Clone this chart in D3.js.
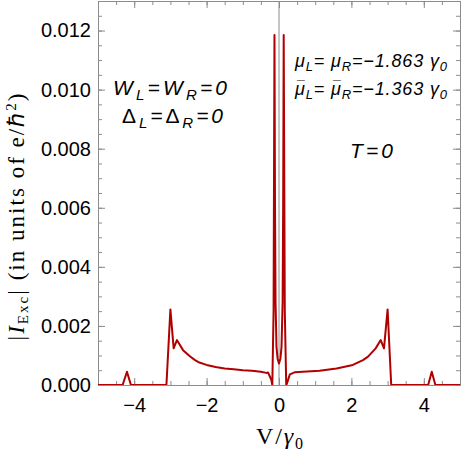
<!DOCTYPE html>
<html>
<head>
<meta charset="utf-8">
<script src="https://cdn.jsdelivr.net/npm/d3@7"></script>
<style>
  body { margin: 0; background: #fff; }
  .tick text { font-family: "Liberation Sans", Arial, sans-serif; font-size: 20px; fill: #000; }
  .frame path, .frame line { stroke: #8c8c8c; }
  .note { font-family: "Liberation Sans", Arial, sans-serif; font-style: italic; fill: #000; }
  .axisTitle { font-family: "Liberation Serif", "Times New Roman", serif; fill: #000; }
</style>
</head>
<body>
<div id="chart"></div>
<script>
// values
var voltage = [-5, -4.32, -4.2, -4.09, -3.11, -3.0, -2.91, -2.82, -2.65, -2.47, -2.33, -2.2, -2.0,
  -1.75, -1.5, -1.25, -1.0, -0.75, -0.5, -0.35, -0.3, -0.21, -0.185, -0.15, -0.125, -0.11, -0.095,
  -0.07, -0.04, 0,
  0.04, 0.07, 0.1, 0.115, 0.13, 0.16, 0.2, 0.22, 0.3, 0.43, 0.66, 1.12, 1.59, 2.04, 2.32, 2.46,
  2.67, 2.81, 2.9, 3.0, 3.1, 4.12, 4.22, 4.32, 5];
var current = [0, 0, 0.00045, 0, 0, 0.00256, 0.00124, 0.00152, 0.00118, 0.00098, 0.00085, 0.00076, 0.00068,
  0.00061, 0.00056, 0.00053, 0.0005, 0.00048, 0.00045, 0.00041, 0.00042, 0.00017, 0, 0.0025, 0.01185, 0.006, 0.0028,
  0.0013, 0.0009, 0.00073,
  0.0009, 0.0013, 0.0028, 0.006, 0.01185, 0.0025, 0, 0.00005, 0.00036, 0.00043, 0.00045, 0.00048, 0.00056, 0.00068, 0.00084, 0.00096,
  0.00124, 0.00152, 0.00124, 0.00256, 0, 0, 0.00045, 0, 0];

var xTicks = [-4, -2, 0, 2, 4];
var yTicks = [0, 0.002, 0.004, 0.006, 0.008, 0.010, 0.012];
var xMinor = d3.range(-5, 5.01, 0.5);
var yMinor = d3.range(0, 0.0131, 0.0005);

var svgWidth = 461;
var svgHeight = 461;

var margin = { top: 1, right: 1, bottom: 76, left: 98 };

var chartWidth = svgWidth - margin.left - margin.right;
var chartHeight = svgHeight - margin.top - margin.bottom;

var svg = d3.select("#chart")
  .append("svg")
  .attr("width", svgWidth)
  .attr("height", svgHeight);

var chartGroup = svg.append("g")
  .attr("transform", `translate(${margin.left}, ${margin.top})`);

var xScale = d3.scaleLinear().domain([-5, 5]).range([0, chartWidth]);
var yScale = d3.scaleLinear().domain([0, 0.013]).range([chartHeight, 0]);

// minor ticks (all four sides)
chartGroup.append("g").attr("class", "frame")
  .attr("transform", `translate(0, ${chartHeight})`)
  .call(d3.axisBottom(xScale).tickValues(xMinor).tickSize(-4).tickSizeOuter(0).tickFormat(""));
chartGroup.append("g").attr("class", "frame")
  .call(d3.axisTop(xScale).tickValues(xMinor).tickSize(-4).tickSizeOuter(0).tickFormat(""));
chartGroup.append("g").attr("class", "frame")
  .call(d3.axisLeft(yScale).tickValues(yMinor).tickSize(-4).tickSizeOuter(0).tickFormat(""));
chartGroup.append("g").attr("class", "frame")
  .attr("transform", `translate(${chartWidth}, 0)`)
  .call(d3.axisRight(yScale).tickValues(yMinor).tickSize(-4).tickSizeOuter(0).tickFormat(""));

// major ticks
chartGroup.append("g").attr("class", "frame")
  .attr("transform", `translate(0, ${chartHeight})`)
  .call(d3.axisBottom(xScale).tickValues(xTicks).tickSize(-7).tickSizeOuter(0).tickPadding(13));
chartGroup.append("g").attr("class", "frame")
  .call(d3.axisTop(xScale).tickValues(xTicks).tickSize(-7).tickSizeOuter(0).tickFormat(""));
chartGroup.append("g").attr("class", "frame")
  .call(d3.axisLeft(yScale).tickValues(yTicks).tickSize(-7).tickSizeOuter(0).tickPadding(7).tickFormat(d3.format(".3f")));
chartGroup.append("g").attr("class", "frame")
  .attr("transform", `translate(${chartWidth}, 0)`)
  .call(d3.axisRight(yScale).tickValues(yTicks).tickSize(-7).tickSizeOuter(0).tickFormat(""));

// vertical line at V = 0
chartGroup.append("line")
  .attr("x1", xScale(0)).attr("x2", xScale(0))
  .attr("y1", 0).attr("y2", chartHeight)
  .attr("stroke", "#8c8c8c")
  .attr("stroke-width", 1);

chartGroup.append("clipPath").attr("id", "clip")
  .append("rect").attr("width", chartWidth).attr("height", chartHeight);

var points = voltage.map((v, i) => [v, current[i]]);

var line = d3.line()
  .x(d => xScale(d[0]))
  .y(d => yScale(d[1]));

chartGroup.append("path")
  .datum(points)
  .attr("clip-path", "url(#clip)")
  .attr("d", line)
  .attr("fill", "none")
  .attr("stroke", "#b00000")
  .attr("stroke-width", 2)
  .attr("stroke-linejoin", "round");

// annotations
var n1 = svg.append("text").attr("class", "note")
  .attr("x", 113).attr("y", 95).style("font-size", "21px")
  .attr("textLength", 114).attr("lengthAdjust", "spacing");
n1.append("tspan").text("W");
n1.append("tspan").attr("dy", 5).style("font-size", "15px").text("L");
n1.append("tspan").attr("dy", -5).text("=W");
n1.append("tspan").attr("dy", 5).style("font-size", "15px").text("R");
n1.append("tspan").attr("dy", -5).text("=0");

var n2 = svg.append("text").attr("class", "note")
  .attr("x", 122).attr("y", 123).style("font-size", "21px")
  .attr("textLength", 101).attr("lengthAdjust", "spacing");
n2.append("tspan").style("font-style", "normal").text("Δ");
n2.append("tspan").attr("dy", 5).style("font-size", "15px").text("L");
n2.append("tspan").attr("dy", -5).text("=");
n2.append("tspan").style("font-style", "normal").text("Δ");
n2.append("tspan").attr("dy", 5).style("font-size", "15px").text("R");
n2.append("tspan").attr("dy", -5).text("=0");

svg.append("text").attr("class", "note")
  .attr("x", 350).attr("y", 158).style("font-size", "21px")
  .attr("textLength", 43).attr("lengthAdjust", "spacing")
  .text("T=0");

function muLine(y, value, bar) {
  var t = svg.append("text").attr("class", "note")
    .attr("x", 295).attr("y", y).style("font-size", "18px")
    .attr("textLength", 152).attr("lengthAdjust", "spacing");
  t.append("tspan").text("μ");
  t.append("tspan").attr("dy", 4).style("font-size", "13px").text("L");
  t.append("tspan").attr("dy", -4).text("= μ");
  t.append("tspan").attr("dy", 4).style("font-size", "13px").text("R");
  t.append("tspan").attr("dy", -4).text("=−" + value + " γ");
  t.append("tspan").attr("dy", 4).style("font-size", "13px").text("0");
  if (bar) {
    // overbar on each μ, placed from the rendered glyph positions
    var node = t.node();
    var full = node.textContent;
    for (var i = 0; i < full.length; i++) {
      if (full[i] !== "μ") continue;
      var a = node.getStartPositionOfChar(i).x;
      var b = node.getEndPositionOfChar(i).x;
      svg.append("text").attr("class", "note")
        .attr("x", (a + b) / 2 + 1).attr("y", y - 4)
        .attr("text-anchor", "middle")
        .style("font-size", "14px")
        .style("font-style", "normal")
        .text("¯");
    }
  }
}
muLine(67, "1.863", false);
muLine(95, "1.363", true);

// axis titles
var yt = svg.append("text").attr("class", "axisTitle")
  .attr("transform", "translate(24, 217) rotate(-90)")
  .attr("text-anchor", "middle")
  .style("font-size", "23px")
  .attr("textLength", 247).attr("lengthAdjust", "spacing");
yt.append("tspan").text("|");
yt.append("tspan").style("font-style", "italic").text("I");
yt.append("tspan").attr("dy", 4).style("font-size", "15px").text("Exc");
yt.append("tspan").attr("dy", -4).text("| (in units of e/ℏ");
yt.append("tspan").attr("dy", -8).style("font-size", "15px").text("2");
yt.append("tspan").attr("dy", 8).text(")");

var xt = svg.append("text").attr("class", "axisTitle")
  .attr("x", 256).attr("y", 444)
  .style("font-size", "24px")
  .attr("textLength", 47).attr("lengthAdjust", "spacing");
xt.append("tspan").text("V/");
xt.append("tspan").style("font-style", "italic").text("γ");
xt.append("tspan").attr("dy", 5).style("font-size", "16px").text("0");
</script>
</body>
</html>
